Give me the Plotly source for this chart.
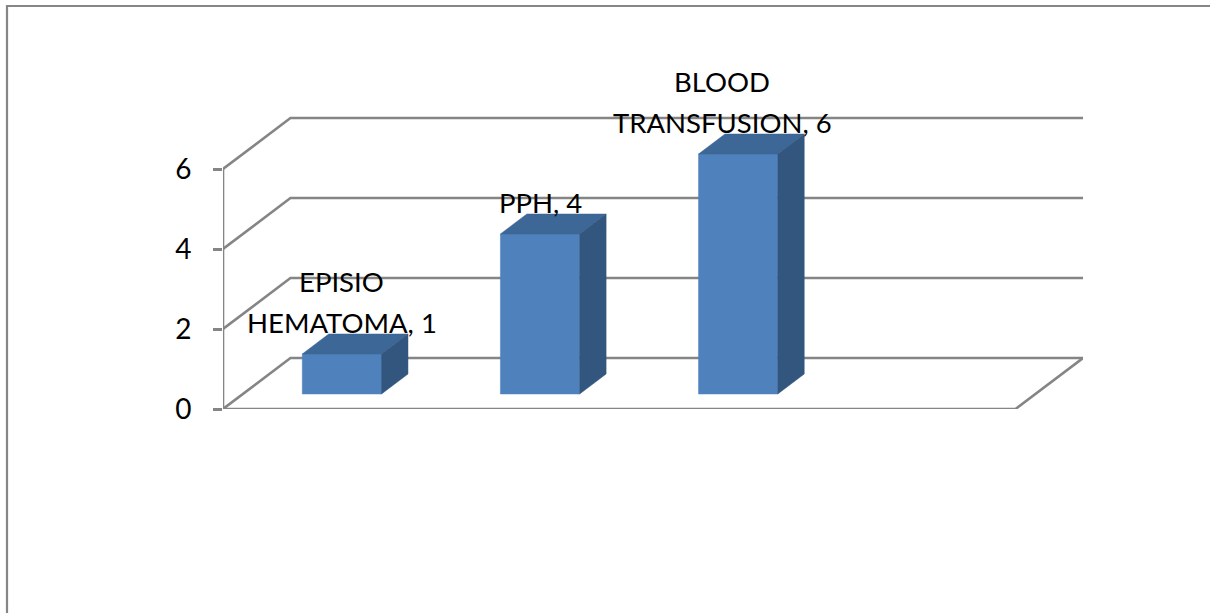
import plotly.graph_objects as go

# ---- data -------------------------------------------------------------
categories = ["EPISIO HEMATOMA", "PPH", "BLOOD TRANSFUSION", ""]
label_lines = [["EPISIO", "HEMATOMA, 1"], ["PPH, 4"], ["BLOOD", "TRANSFUSION, 6"], []]
values = [1, 4, 6, None]
y_ticks = [0, 2, 4, 6]

# ---- 3-D look (in axis units) ----------------------------------------
DEPTH_X = 0.3406      # horizontal shift of the back wall, in category units
DEPTH_Y = 1.275       # vertical shift of the back wall, in value units
BAR_W = 0.40          # bar width as a fraction of a category slot
D_FRONT = 0.294       # depth fraction where a bar's front face sits
D_THICK = 0.392       # bar thickness as a fraction of the full depth
N_SLOTS = len(categories)
Y_TOP = 8

GRID = "#858585"
FRONT = "#4F81BD"
TOP = "#3D6797"
SIDE = "#33567F"
FONT = "Lato, 'Open Sans', sans-serif"

# figure geometry (pixels)
W, H = 1210, 613
ML, MR, MT, MB = 223, 127, 89, 204

fig = go.Figure()

# back-wall gridlines with their diagonal run to the front axis
gx, gy = [], []
for t in y_ticks:
    gx += [0, DEPTH_X, N_SLOTS + DEPTH_X, None]
    gy += [t, t + DEPTH_Y, t + DEPTH_Y, None]
# floor: front edge and right edge
gx += [0, N_SLOTS, N_SLOTS + DEPTH_X, None]
gy += [0, 0, DEPTH_Y, None]
# front value axis line
gx += [0, 0, None]
gy += [0, max(y_ticks), None]
fig.add_trace(go.Scatter(x=gx, y=gy, mode="lines",
                         line=dict(color=GRID, width=2.6),
                         hoverinfo="skip", showlegend=False))


def poly(xs, ys, color):
    fig.add_trace(go.Scatter(x=xs + [xs[0]], y=ys + [ys[0]], mode="lines",
                             fill="toself", fillcolor=color,
                             line=dict(color=color, width=0.5),
                             hoverinfo="skip", showlegend=False))


annotations = []
for i, v in enumerate(values):
    if v is None:
        continue
    x0 = i + (1 - BAR_W) / 2 + D_FRONT * DEPTH_X
    x1 = x0 + BAR_W
    y0 = D_FRONT * DEPTH_Y
    y1 = y0 + v
    ddx = D_THICK * DEPTH_X
    ddy = D_THICK * DEPTH_Y
    # front, top and side faces
    poly([x0, x1, x1, x0], [y0, y0, y1, y1], FRONT)
    poly([x0, x1, x1 + ddx, x0 + ddx], [y1, y1, y1 + ddy, y1 + ddy], TOP)
    poly([x1, x1 + ddx, x1 + ddx, x1], [y0, y0 + ddy, y1 + ddy, y1], SIDE)

    # data label: lines stacked upward from the bar's top back edge
    lines = label_lines[i]
    xshift = -16 if i == 2 else 0
    for k, txt in enumerate(reversed(lines)):
        annotations.append(dict(
            x=(x0 + x1) / 2, y=y1 + ddy, xref="x", yref="y",
            text=txt, showarrow=False, xanchor="center", yanchor="bottom",
            xshift=xshift, yshift=-7 + 41 * k,
            font=dict(family=FONT, size=27.5, color="#000000")))

# outer chart border (runs past the right and bottom edges)
pw, ph = W - ML - MR, H - MT - MB
px = lambda p: (p - ML) / pw
py = lambda p: (H - MB - p) / ph
shapes = [dict(type="rect", xref="paper", yref="paper",
               x0=px(7), x1=px(W + 20), y0=py(H + 20), y1=py(6),
               line=dict(color="#868686", width=2.2), fillcolor="rgba(0,0,0,0)",
               layer="below")]

fig.update_layout(
    width=W, height=H,
    margin=dict(l=ML, r=MR, t=MT, b=MB, pad=0),
    paper_bgcolor="white", plot_bgcolor="white",
    showlegend=False,
    xaxis=dict(range=[0, N_SLOTS + DEPTH_X], visible=False, fixedrange=True),
    yaxis=dict(range=[0, Y_TOP], tickvals=y_ticks, ticktext=[str(t) for t in y_ticks],
               ticks="outside", ticklen=9, tickwidth=2.6, tickcolor=GRID,
               ticklabelstandoff=16,
               showgrid=False, zeroline=False, showline=False,
               tickfont=dict(family=FONT, size=28, color="#000000"),
               fixedrange=True),
    annotations=annotations,
    shapes=shapes,
)

fig.write_html("out.html")
